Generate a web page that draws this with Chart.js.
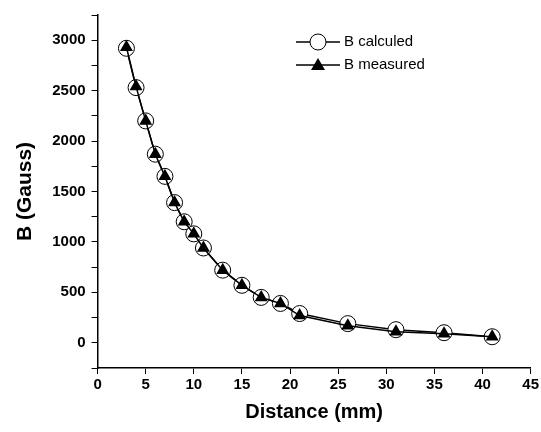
<!DOCTYPE html><html><head><script src="https://cdn.jsdelivr.net/npm/chart.js"></script>
<style>body{margin:0;background:#fff}</style></head><body><canvas id="c" width="541" height="432"></canvas>
<script>
const distance=[3,4,5,6,7,8,9,10,11,13,15,17,19,21,26,31,36,41];
const bCalc=[2920,2530,2200,1870,1650,1390,1200,1080,940,720,570,450,390,290,190,130,100,60];
const bMeas=[2930,2540,2200,1870,1650,1390,1200,1080,940,720,570,450,390,270,170,110,90,60];
const pts=a=>a.map((v,i)=>({x:distance[i],y:v}));
Chart.defaults.font.family="Liberation Sans, Arial";
Chart.defaults.color="#000";
new Chart(document.getElementById('c'),{type:'scatter',data:{datasets:[
{label:'B calculed',order:2,data:pts(bCalc),showLine:true,borderColor:'#000',borderWidth:1.5,pointStyle:'circle',pointRadius:8,pointBackgroundColor:'#fff',pointBorderColor:'#000',pointBorderWidth:1},
{label:'B measured',order:1,data:pts(bMeas),showLine:true,borderColor:'#000',borderWidth:1.5,pointStyle:'triangle',pointRadius:6,pointBackgroundColor:'#000',pointBorderColor:'#000'}]},
options:{responsive:false,animation:false,layout:{padding:{top:12,right:8,left:9,bottom:4}},
plugins:{legend:{display:false},tooltip:{enabled:false}},
scales:{x:{min:0,max:45,ticks:{stepSize:5,font:{size:15,weight:'bold'},padding:2},grid:{drawOnChartArea:false,color:'#000',tickLength:6},border:{color:'#000',width:1.5},
 title:{display:true,text:'Distance (mm)',font:{size:20,weight:'bold'},padding:{top:4}}},
y:{min:-250,max:3250,afterBuildTicks:a=>{a.ticks=[];for(let v=-250;v<=3250;v+=250)a.ticks.push({value:v});},
 ticks:{autoSkip:false,font:{size:15,weight:'bold'},callback:v=>(v%500===0&&v>=0&&v<=3000)?String(v):'',padding:6},grid:{drawOnChartArea:false,color:'#000',tickLength:6},border:{color:'#000',width:1.5},
 title:{display:true,text:'B (Gauss)',font:{size:21,weight:'bold'},padding:{bottom:8}}}}},
plugins:[{id:'leg',afterDraw(ch){const c=ch.ctx;c.save();c.strokeStyle='#000';c.lineWidth=1.5;c.font='15px Liberation Sans, Arial';c.textBaseline='middle';
 [[42,0],[65,1]].forEach(([y,k])=>{c.beginPath();c.moveTo(296,y);c.lineTo(340,y);c.stroke();
 if(k==0){c.beginPath();c.fillStyle='#fff';c.arc(318,y,8,0,7);c.fill();c.lineWidth=1;c.stroke();c.lineWidth=1.5;}else{c.fillStyle='#000';c.beginPath();c.moveTo(318,y-7);c.lineTo(325,y+5);c.lineTo(311,y+5);c.closePath();c.fill();}
 c.fillStyle='#000';c.fillText(k?'B measured':'B calculed',344,y);});c.restore();}}]});
</script></body></html>
